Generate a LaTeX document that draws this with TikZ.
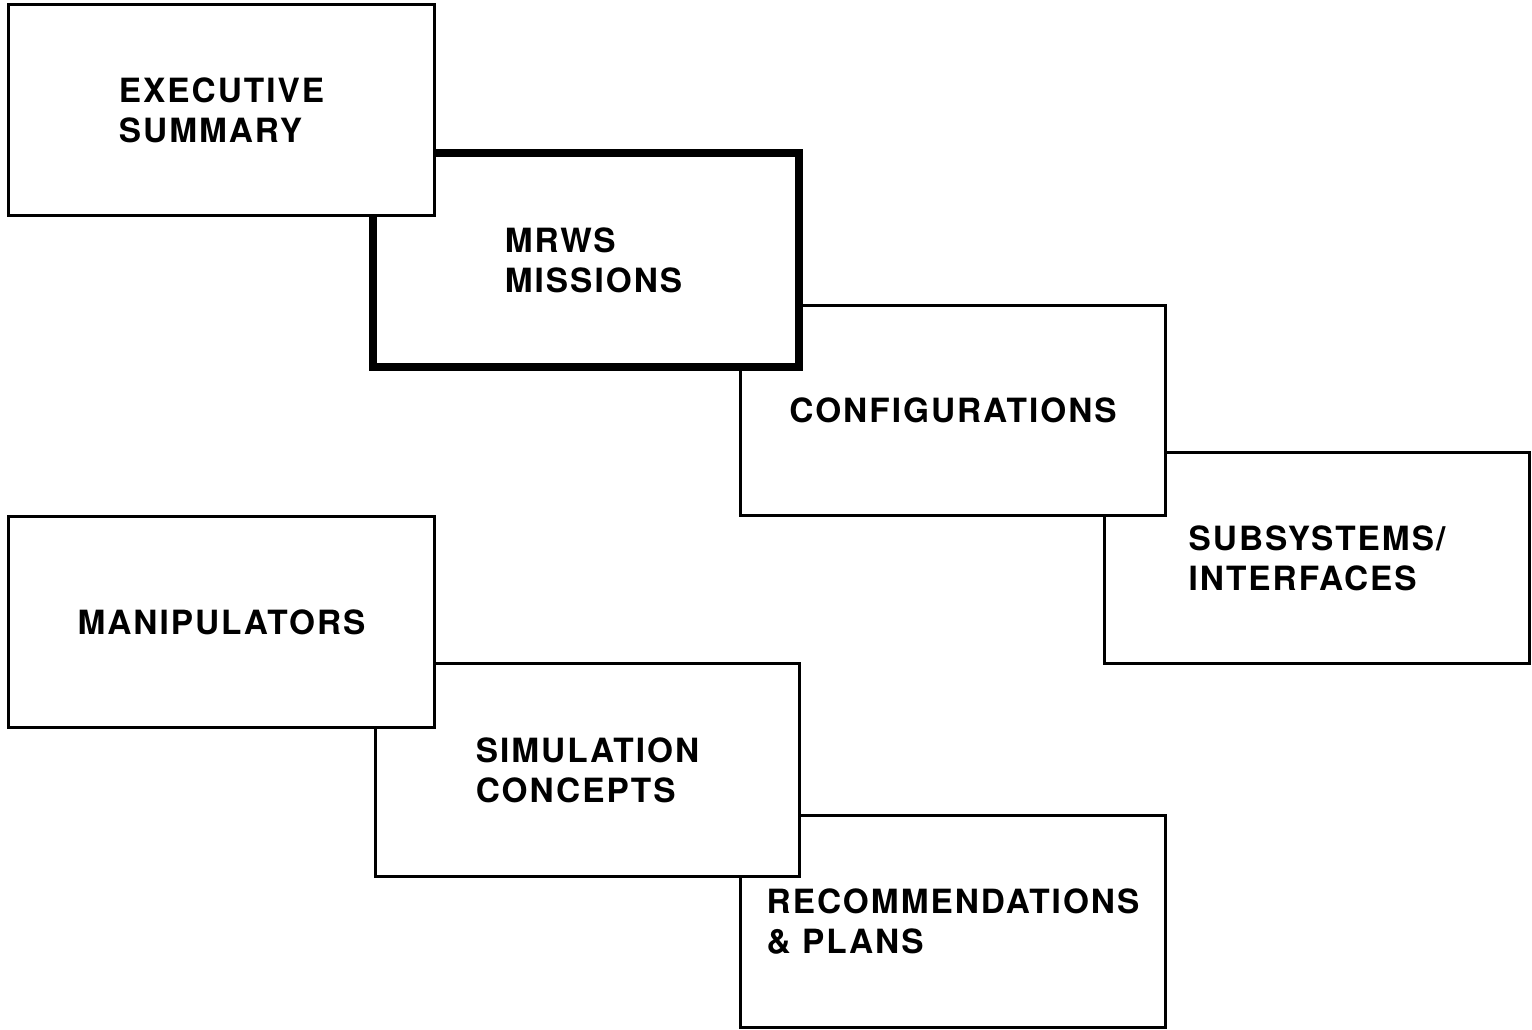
\documentclass[tikz,border=0pt]{standalone}
\usepackage{fontspec}
\setmainfont{TeX Gyre Heros}[LetterSpace=6]
\usepackage{tikz}
\usetikzlibrary{positioning}

\tikzset{
  chapter/.style={draw, fill=white, line width=1.7pt, inner sep=0pt,
    minimum width=8.52cm, minimum height=4.22cm, align=left,
    font=\bfseries\fontsize{19}{22.8}\selectfont},
  keychapter/.style={chapter, line width=4.5pt}
}

\begin{document}
\begin{tikzpicture}[x=0.02cm, y=-0.02cm]
        % Page frame
        \useasboundingbox (0,0) rectangle (1532,1030);
        % Upper chain (drawn back to front)
        \node[chapter, minimum height=4.24cm] (subsys) at (1317,558) {SUBSYSTEMS/\\INTERFACES};
        \node[chapter] (config) at (953,410.5) {CONFIGURATIONS};
        \node[keychapter, minimum height=4.28cm] (mrws) at (586,260) {\hspace*{0.3cm}MRWS\\\hspace*{0.3cm}MISSIONS};
        \node[chapter, minimum width=8.54cm] (exec) at (221.5,110) {EXECUTIVE\\SUMMARY};
        % Lower chain (drawn back to front)
        \node[chapter, minimum height=4.26cm] (recomm) at (953,921.5) {RECOMMENDATIONS\\\& PLANS};
        \node[chapter, minimum width=8.5cm, minimum height=4.28cm] (sim) at (587.5,770) {SIMULATION\\CONCEPTS};
        \node[chapter, minimum width=8.54cm] (manip) at (221.5,622) {MANIPULATORS};
\end{tikzpicture}
\end{document}
